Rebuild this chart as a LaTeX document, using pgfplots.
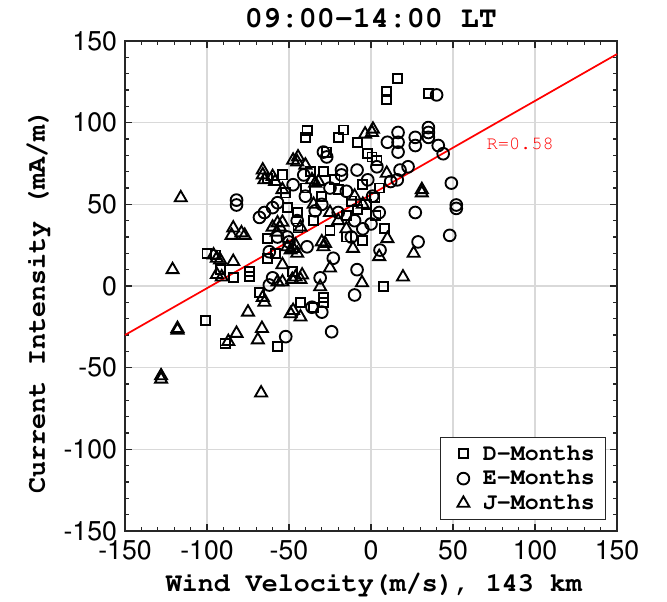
\documentclass[border=0pt]{standalone}
\usepackage[T1]{fontenc}
\usepackage{pgfplots}
\pgfplotsset{compat=1.18}
\newcommand{\courb}{\fontfamily{pcr}\fontseries{b}\selectfont}
\newcommand{\helv}{\fontfamily{phv}\fontseries{m}\selectfont}
\pgfplotstableread{
x y
16 127
9.6 119
9.6 114
35 118
-39 95
-40 91
-17 95.5
-20 91
-8 88
-2 81
0.6 79
3.6 77
-27 82
-54 68
-63 66
-52 57
-29 70
2.4 54
-51 48
-63 29
-63 17
-100 20
-95 19
-101 -21
-92 10
-84 5
-74 9
-74 6
-68 -4
-89 -35
-57 -37
-44.5 35.5
-20 59
-12 52
-8 47
-35 40
-25 34
-15 43
-5 28
3 43
8 35
7.5 -0.5
-29 -7
-29 -10
-35 -13
-43 -10
-15 30
-30 55
-40 60
-45 45
-22 65
-5 62
5 60
-3 50
-37 70
-58 20
-48 9
}\dmonths
\pgfplotstableread{
x y
40 117
16.5 94
16.5 88
16.5 82
10 88
27 91
27 86
35 97
35 94
35 91
41 86
44 81
22.6 73
17.7 71
16 65
12 64
3.6 73
-8.5 71
-18 71
-18 68
-27 79
-29 82
-41 68
-47.5 62
49 63
52 49.6
52 47.5
27 45
-82 52.6
-82 49.6
-57 51
-60 48
-65 45
-68 42
-57 30
-51 30
-62 21
-62 0.6
-52 -31
-24 -28
-36 -13
-30 -16
-10 -5.5
-8.5 10
-31 5
-23 17
5.5 22
28.7 27
48 31
-39 24
-34 46
-10 40
-5 35
0 38
-15 58
-25 60
-30 50
-20 45
-40 55
1 55
5 45
-12 30
-2 65
-50 27
-60 5
-45 40
}\emonths
\pgfplotstableread{
x y
-128 -55
-128 -57
-116 54
-121 10
-118 -27
-118 -26
-67 -65.5
1.2 96
-3.6 93
0.6 94
-44.5 79
-45 76
-40 74
-34 63
-36 65
-32 64
-66 71
-66 68
-65 65
-60 67
-58.5 64
-54 59
-47.5 77
9.6 69
31 59
31 57
-84 35.5
-85 31
-79 32.5
-77 31
-96 19
-94 17
-92 16
-94 7
-91 5.5
-84 15
-54 13
-57 2.5
-48 4
-66 -7
-65 -10
-75 -16
-66.5 -26
-69 -33
-82 -29
-87 -34
-49 -17
-57 38.6
-55.5 36
-60 36
-57.5 33
-51 24
-49 22
-47.5 23
-45 20
-46 25
-43 36
-54 39
-30 27
-29 24
-46 5.5
-42 6.7
10 29
26 20
19.5 5.5
5 18
-11 23
-5.5 2
-25 11
-31 -0.5
-43 4
-54 2.5
-28 26
-43 -19
-47.5 -15
-20 40
-10 55
-5 50
-25 45
-15 35
-35 50
}\jmonths
\pgfplotstableread{
x y
-150 -30
150 142
}\fitline
\begin{document}
\begin{tikzpicture}
\path[use as bounding box] (-93.75pt,-52.5pt) rectangle (406.5pt,398.25pt);
\begin{axis}[
  at={(0pt,0pt)}, anchor=south west,
  scale only axis,
  width=369pt, height=367.5pt,
  xmin=-150, xmax=150, ymin=-150, ymax=150,
  xtick={-150,-100,...,150}, ytick={-150,-100,...,150},
  minor tick num=4,
  tick align=inside,
  major tick length=5pt, minor tick length=3pt,
  tick style={line width=0.8pt, color=black!85},
  axis line style={line width=1pt, color=black!85},
  grid=major,
  major grid style={line width=0.8pt, color=black!15},
  /pgf/number format/assume math mode=true,
  ticklabel style={font=\helv\fontsize{20}{22}\selectfont},
  xticklabel style={yshift=-3.5pt},
  yticklabel style={xshift=-2.5pt},
  xlabel={Wind Velocity(m/s), 143 km},
  ylabel={Current Intensity (mA/m)},
  label style={font=\courb\fontsize{20}{22}\selectfont},
  xlabel style={at={(rel axis cs:0.506,-0.110)}, anchor=center},
  ylabel style={at={(rel axis cs:-0.177,0.469)}, anchor=center, rotate=0},
  legend style={at={(rel axis cs:0.978,0.022)}, anchor=south east,
    font=\courb\fontsize{17.5}{20}\selectfont, draw=black!85, line width=0.8pt,
    row sep=0pt, inner xsep=3pt, inner ysep=3pt, cells={anchor=west},
    nodes={inner xsep=5pt, inner ysep=3pt}},
  legend cell align=left,
  legend image code/.code={\path[draw=none,fill=none] (0cm,0cm) -- (0.84cm,0cm); \draw[#1] plot[only marks] coordinates {(0.5cm,0cm)};},
  clip=false,
]
\addplot[only marks, mark=square, mark size=3.4pt, mark options={line width=1.4pt, black}] table[x=x,y=y] {\dmonths};
\addlegendentry{D-Months}
\addplot[only marks, mark=o, mark size=4.4pt, mark options={line width=1.4pt, black}] table[x=x,y=y] {\emonths};
\addlegendentry{E-Months}
\addplot[only marks, mark=triangle, mark size=5.2pt, mark options={line width=1.4pt, black}] table[x=x,y=y] {\jmonths};
\addlegendentry{J-Months}
\addplot[red, line width=1.3pt, no marks, forget plot] table[x=x,y=y] {\fitline};
\node[text=red, font=\fontfamily{pcr}\fontseries{m}\selectfont\fontsize{14}{16}\selectfont] at (axis cs:91,87) {R=0.58};
\node[font=\courb\fontsize{22.5}{24}\selectfont, anchor=base, inner sep=0pt] at ([yshift=10.5pt]rel axis cs:0.5,1) {09:00-14:00 LT};
\end{axis}
\end{tikzpicture}
\end{document}
